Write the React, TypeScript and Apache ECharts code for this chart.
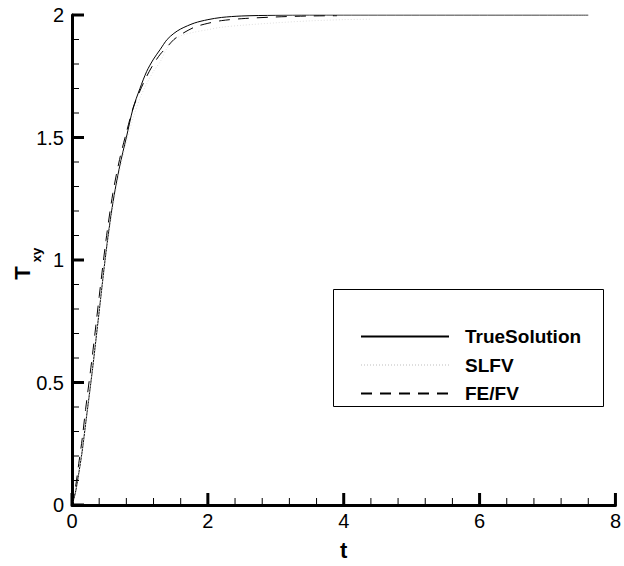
import React, { useEffect, useRef } from "react";
import * as echarts from "echarts";

const trueT = [0, 0.05, 0.1, 0.15, 0.2, 0.3, 0.4, 0.5, 0.6, 0.7, 0.8, 0.9, 1.0, 1.1, 1.2, 1.3, 1.4, 1.5, 1.6, 1.8, 2.0, 2.2, 2.5, 3.0, 3.5, 4.0, 5.0, 6.0, 7.0, 7.6];
const trueV = [0, 0.05, 0.13, 0.22, 0.33, 0.55, 0.79, 1.03, 1.23, 1.38, 1.5, 1.62, 1.7, 1.77, 1.82, 1.86, 1.9, 1.925, 1.943, 1.967, 1.981, 1.99, 1.996, 1.999, 2.0, 2.0, 2.0, 2.0, 2.0, 2.0];

const slfvT = [0, 0.05, 0.1, 0.15, 0.2, 0.3, 0.4, 0.5, 0.6, 0.7, 0.8, 0.9, 1.0, 1.1, 1.2, 1.3, 1.4, 1.5, 1.6, 1.8, 2.0, 2.2, 2.5, 3.0, 3.5, 4.0, 4.4];
const slfvV = [0, 0.05, 0.13, 0.22, 0.33, 0.55, 0.79, 1.02, 1.21, 1.36, 1.48, 1.58, 1.66, 1.72, 1.77, 1.81, 1.865, 1.895, 1.915, 1.93, 1.94, 1.95, 1.958, 1.968, 1.976, 1.981, 1.983];

const fefvT = [0, 0.05, 0.1, 0.15, 0.2, 0.3, 0.4, 0.5, 0.6, 0.7, 0.8, 0.9, 1.0, 1.1, 1.2, 1.3, 1.4, 1.5, 1.6, 1.8, 2.0, 2.2, 2.5, 3.0, 3.5, 3.9];
const fefvV = [0, 0.07, 0.17, 0.27, 0.39, 0.61, 0.85, 1.08, 1.27, 1.41, 1.52, 1.62, 1.69, 1.75, 1.8, 1.84, 1.87, 1.9, 1.92, 1.95, 1.966, 1.977, 1.985, 1.992, 1.996, 1.997];

const seriesNames = ["TrueSolution", "SLFV", "FE/FV"];
const xTicks = { min: 0, max: 8, interval: 2 };
const yTicks = { min: 0, max: 2, interval: 0.5 };

const xMajorTicks = [0, 2, 4, 6, 8];
const xMinorTicks = [0.4, 0.8, 1.2, 1.6, 2.4, 2.8, 3.2, 3.6, 4.4, 4.8, 5.2, 5.6, 6.4, 6.8, 7.2, 7.6];
const yMajorTicks = [0, 0.5, 1, 1.5, 2];
const yMinorTicks = [0.1, 0.2, 0.3, 0.4, 0.6, 0.7, 0.8, 0.9, 1.1, 1.2, 1.3, 1.4, 1.6, 1.7, 1.8, 1.9];

const FONT = "'Liberation Sans', Arial, Helvetica, sans-serif";

const pairs = (xs: number[], ys: number[]) => xs.map((x, i) => [x, ys[i]]);

// tick records: [axis (0 = x, 1 = y), value, major (1) / minor (0)]
const tickData = [
  ...xMajorTicks.map((v) => [0, v, 1]),
  ...xMinorTicks.map((v) => [0, v, 0]),
  ...yMajorTicks.map((v) => [1, v, 1]),
  ...yMinorTicks.map((v) => [1, v, 0]),
];

export default function App() {
  const ref = useRef<HTMLDivElement>(null);
  useEffect(() => {
    if (!ref.current) return;
    const chart = echarts.init(ref.current, null, { renderer: "svg" });
    const opt: any = {
      animation: false,
      grid: { left: 72, top: 15, right: 4, bottom: 50 },
      xAxis: {
        type: "value",
        min: xTicks.min,
        max: xTicks.max,
        interval: xTicks.interval,
        splitLine: { show: false },
        axisLine: { show: true, lineStyle: { color: "#000", width: 3 } },
        axisTick: { show: false },
        minorTick: { show: false },
        axisLabel: { color: "#000", fontSize: 20, fontFamily: FONT, margin: 6, showMaxLabel: true },
        name: "t",
        nameLocation: "middle",
        nameGap: 34,
        nameTextStyle: { color: "#000", fontSize: 22, fontWeight: "bold", fontFamily: FONT },
      },
      yAxis: {
        type: "value",
        min: yTicks.min,
        max: yTicks.max,
        interval: yTicks.interval,
        splitLine: { show: false },
        axisLine: { show: true, lineStyle: { color: "#000", width: 3 } },
        axisTick: { show: false },
        minorTick: { show: false },
        axisLabel: { color: "#000", fontSize: 20, fontFamily: FONT, margin: 8 },
      },
      legend: {
        show: true,
        orient: "vertical",
        left: 355,
        top: 322,
        itemWidth: 88,
        itemHeight: 14,
        itemGap: 9.5,
        selectedMode: false,
        data: seriesNames,
        itemStyle: { opacity: 0 },
        textStyle: { color: "#000", fontSize: 19, fontWeight: "bold", fontFamily: FONT, lineHeight: 14, padding: [0, 0, 0, 11] },
      },
      graphic: [
        {
          type: "rect",
          shape: { x: 333.5, y: 289.5, width: 270, height: 117 },
          style: { fill: "none", stroke: "#000", lineWidth: 1 },
          z: 0,
        },
        {
          type: "text",
          x: 22,
          y: 273,
          rotation: Math.PI / 2,
          style: { text: "T", font: `bold 22px ${FONT}`, fill: "#000", textAlign: "center", textVerticalAlign: "middle" },
        },
        {
          type: "text",
          x: 36,
          y: 255,
          rotation: Math.PI / 2,
          style: { text: "xy", font: `bold 13px ${FONT}`, fill: "#000", textAlign: "center", textVerticalAlign: "middle" },
        },
      ],
      series: [
        {
          name: seriesNames[0],
          type: "line",
          data: pairs(trueT, trueV),
          symbol: "none",
          smooth: 0.3,
          lineStyle: { color: "#000", width: 1, type: "solid" },
          itemStyle: { color: "#000" },
        },
        {
          name: seriesNames[1],
          type: "line",
          data: pairs(slfvT, slfvV),
          symbol: "none",
          smooth: 0.3,
          lineStyle: { color: "#dedede", width: 1, type: [1, 2] },
          itemStyle: { color: "#dedede" },
        },
        {
          name: seriesNames[2],
          type: "line",
          data: pairs(fefvT, fefvV),
          symbol: "none",
          smooth: 0.3,
          lineStyle: { color: "#000", width: 1, type: [11, 8] },
          itemStyle: { color: "#000" },
        },
        {
          name: "axisTicks",
          type: "custom",
          silent: true,
          clip: false,
          z: 5,
          data: tickData,
          encode: { x: 1, y: 1 },
          renderItem: (_params: any, api: any) => {
            const axis = api.value(0);
            const v = api.value(1);
            const major = api.value(2) === 1;
            const len = major ? 12 : 7;
            const lw = major ? 3 : 1;
            if (axis === 0) {
              const p = api.coord([v, 0]);
              return {
                type: "line",
                shape: { x1: p[0], y1: p[1], x2: p[0], y2: p[1] - len },
                style: { stroke: "#000", lineWidth: lw },
              };
            }
            const p = api.coord([0, v]);
            return {
              type: "line",
              shape: { x1: p[0], y1: p[1], x2: p[0] + len, y2: p[1] },
              style: { stroke: "#000", lineWidth: lw },
            };
          },
        },
      ],
    };
    chart.setOption(opt);
    return () => chart.dispose();
  }, []);
  return (
    <div style={{ position: "absolute", left: 0, top: 0, width: 624, height: 566 }}>
      <div ref={ref} style={{ width: 624, height: 566 }} />
    </div>
  );
}
